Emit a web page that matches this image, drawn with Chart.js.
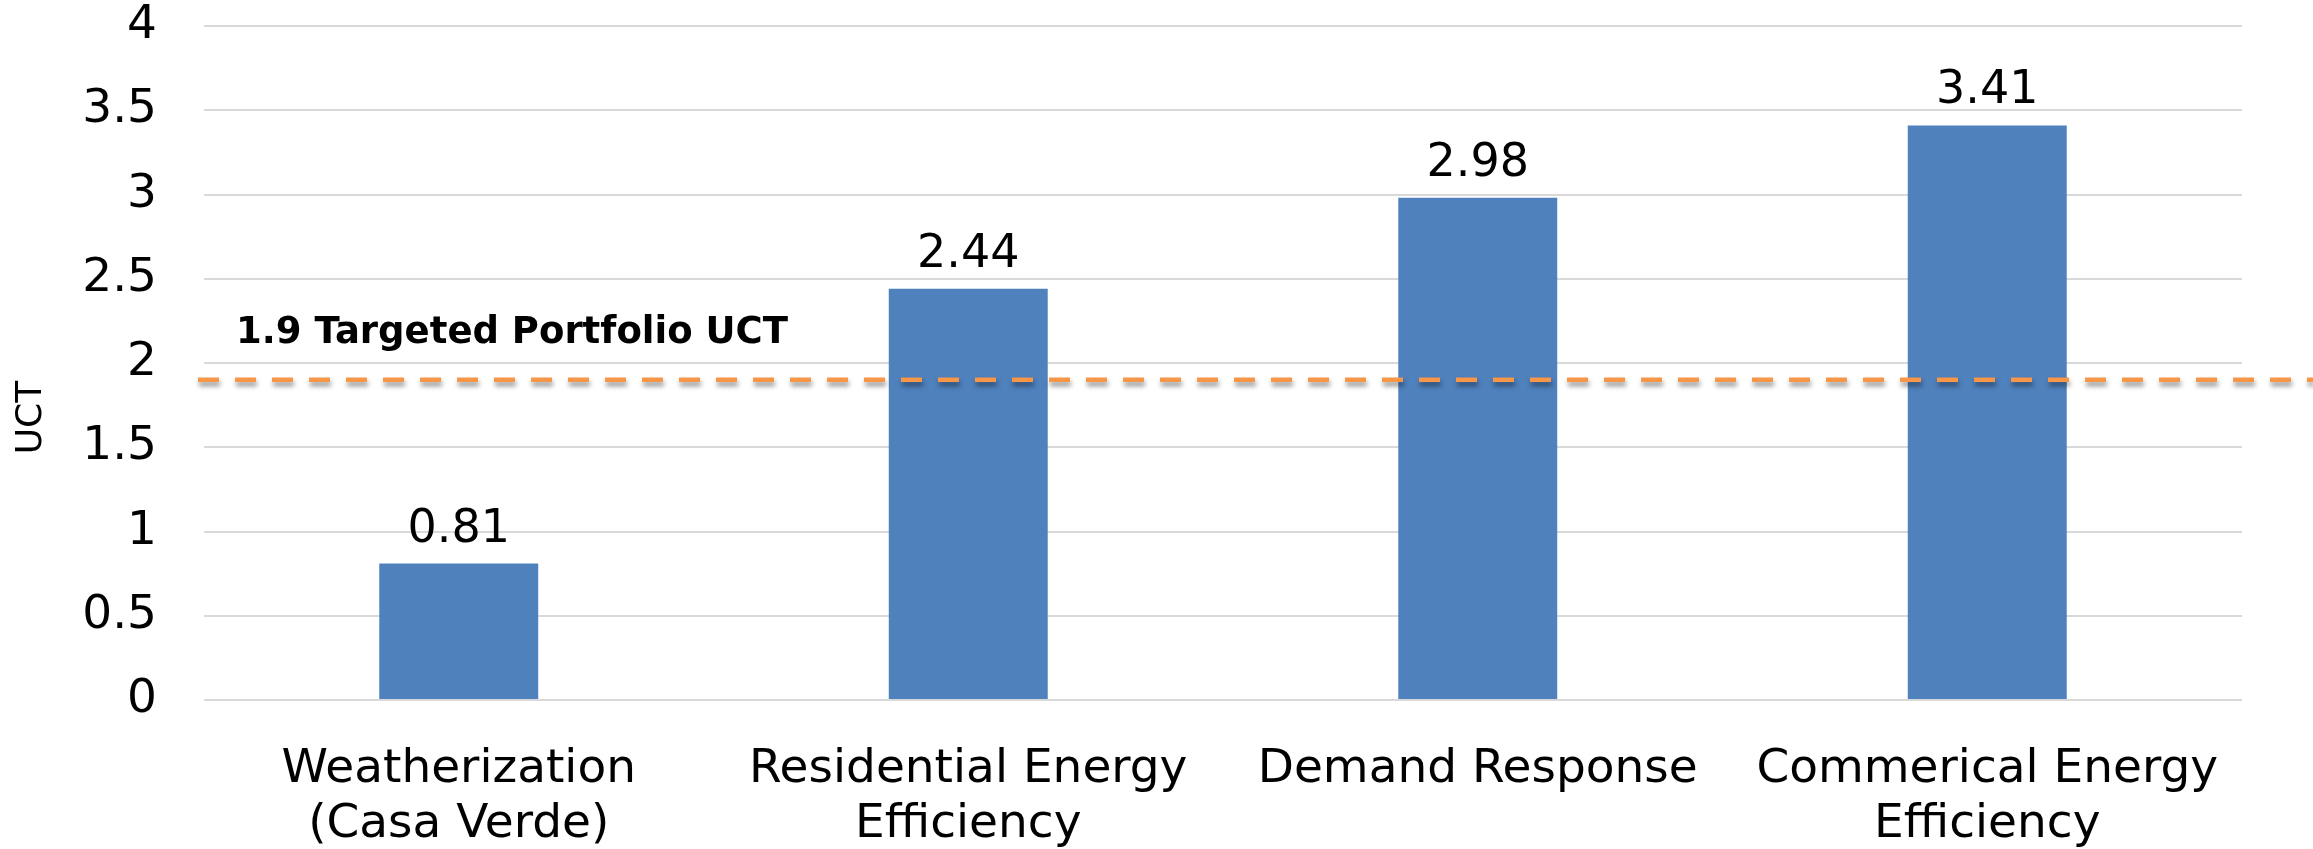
<!DOCTYPE html>
<html>
<head>
<meta charset="utf-8">
<style>
  html, body { margin: 0; padding: 0; background: #ffffff; }
  #wrap { width: 2313px; height: 849px; position: relative; }
</style>
<script src="https://cdn.jsdelivr.net/npm/chart.js@4/dist/chart.umd.min.js"></script>
</head>
<body>
<div id="wrap"><canvas id="chart" width="2313" height="849"></canvas></div>
<script>
// Program categories (multi-line labels)
const categories = [
  ['Weatherization', '(Casa Verde)'],
  ['Residential Energy', 'Efficiency'],
  'Demand Response',
  ['Commerical Energy', 'Efficiency']
];
// UCT benefit-cost ratio per program
const uctValues = [0.81, 2.44, 2.98, 3.41];
// Portfolio target
const targetValue = 1.9;
const targetLabel = '1.9 Targeted Portfolio UCT';
const axisTitle = 'UCT';

const BAR_BLUE = '#4F81BD';
const TARGET_ORANGE = '#F79646';
const FONT = '"DejaVu Sans", Verdana, sans-serif';

// Value labels above each bar
const valueLabels = {
  id: 'valueLabels',
  afterDatasetsDraw(chart) {
    const ctx = chart.ctx;
    const meta = chart.getDatasetMeta(0);
    ctx.save();
    ctx.font = '46px ' + FONT;
    ctx.fillStyle = '#000000';
    ctx.textAlign = 'center';
    ctx.textBaseline = 'alphabetic';
    meta.data.forEach((bar, i) => {
      ctx.fillText(uctValues[i].toFixed(2), bar.x, bar.y - 22);
    });
    ctx.restore();
  }
};

// Dashed target line across the plot, with its caption
const targetLine = {
  id: 'targetLine',
  afterDatasetsDraw(chart) {
    const ctx = chart.ctx;
    const y = chart.scales.y.getPixelForValue(targetValue);
    const x0 = chart.chartArea.left - 6;
    const x1 = chart.width;
    ctx.save();
    ctx.strokeStyle = TARGET_ORANGE;
    ctx.lineWidth = 4.5;
    ctx.setLineDash([21, 16]);
    ctx.shadowColor = 'rgba(0,0,0,0.45)';
    ctx.shadowBlur = 5;
    ctx.shadowOffsetY = 4;
    ctx.shadowOffsetX = 1;
    ctx.beginPath();
    ctx.moveTo(x0, y);
    ctx.lineTo(x1, y);
    ctx.stroke();
    ctx.restore();

    ctx.save();
    ctx.font = 'bold 37px ' + FONT;
    ctx.fillStyle = '#000000';
    ctx.textAlign = 'left';
    ctx.textBaseline = 'alphabetic';
    ctx.fillText(targetLabel, chart.chartArea.left + 32, y - 37);
    ctx.restore();
  }
};

// Rotated y-axis title, centred on the canvas height
const yTitle = {
  id: 'yTitle',
  afterDraw(chart) {
    const ctx = chart.ctx;
    ctx.save();
    ctx.translate(32, chart.height / 2 - 7);
    ctx.rotate(-Math.PI / 2);
    ctx.font = '36px ' + FONT;
    ctx.fillStyle = '#000000';
    ctx.textAlign = 'center';
    ctx.textBaseline = 'middle';
    ctx.fillText(axisTitle, 0, 0);
    ctx.restore();
  }
};

new Chart(document.getElementById('chart'), {
  type: 'bar',
  data: {
    labels: categories,
    datasets: [{
      data: uctValues,
      backgroundColor: BAR_BLUE,
      borderWidth: 0,
      barPercentage: 0.312,
      categoryPercentage: 1.0
    }]
  },
  options: {
    responsive: false,
    animation: false,
    devicePixelRatio: 1,
    layout: { padding: { top: 26, right: 71, left: 0, bottom: 0 } },
    plugins: {
      legend: { display: false },
      tooltip: { enabled: false }
    },
    scales: {
      x: {
        grid: { display: false, drawTicks: false },
        border: { display: false },
        ticks: {
          color: '#000000',
          font: { family: FONT, size: 47, lineHeight: 1.17 },
          padding: 42,
          maxRotation: 0,
          autoSkip: false
        },
        afterFit(scale) { scale.height = 149; }
      },
      y: {
        min: 0,
        max: 4,
        grid: { color: '#d9d9d9', lineWidth: 2, drawTicks: false },
        border: { display: false },
        ticks: {
          stepSize: 0.5,
          color: '#000000',
          font: { family: FONT, size: 47 },
          padding: 47,
          callback: (v) => String(Math.round(v * 10) / 10)
        },
        afterFit(scale) {
          scale.width = 204;
          scale.paddingTop = 0;
          scale.paddingBottom = 0;
        }
      }
    }
  },
  plugins: [valueLabels, targetLine, yTitle]
});
</script>
</body>
</html>
